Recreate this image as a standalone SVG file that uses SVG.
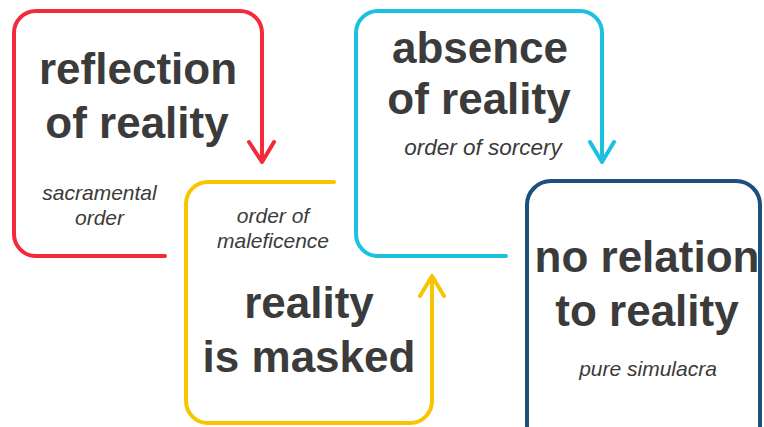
<svg xmlns="http://www.w3.org/2000/svg" width="764" height="427" viewBox="0 0 764 427">
<style>
.c{fill:none;stroke-width:4;stroke-linecap:round;stroke-linejoin:round}
.t{font-family:"Liberation Sans",Arial,sans-serif;font-weight:bold;font-size:44px;fill:#3b3b3b;text-anchor:middle}
.s{font-family:"Liberation Sans",Arial,sans-serif;font-style:italic;font-size:21px;fill:#3b3b3b;text-anchor:middle}
</style>
<rect width="764" height="427" fill="#ffffff"/>
<g id="connectors">
<path class="c" stroke="#f22a3a" d="M165,256 H36 A22,22 0 0 1 14,234 V33 A22,22 0 0 1 36,11 H240 A22,22 0 0 1 262,33 V162 M249,142 L262,162 L274,142"/>
<path class="c" stroke="#f8c500" d="M334,182 H208 A22,22 0 0 0 186,204 V401 A22,22 0 0 0 208,423 H410 A22,22 0 0 0 432,401 V276 M420,296 L432,276 L444,296"/>
<path class="c" stroke="#1cc0e0" d="M506,256 H378 A22,22 0 0 1 356,234 V33 A22,22 0 0 1 378,11 H580 A22,22 0 0 1 602,33 V162 M590,142 L602,162 L614,142"/>
</g>
<g id="node-reflection">
<text class="t" x="138" y="84">reflection</text>
<text class="t" x="137" y="138">of reality</text>
<text class="s" x="99.5" y="200">sacramental</text>
<text class="s" x="99.5" y="225">order</text>
</g>
<g id="node-masked">
<text class="s" x="273" y="223">order of</text>
<text class="s" x="273" y="248">maleficence</text>
<text class="t" x="309" y="318">reality</text>
<text class="t" x="309" y="372">is masked</text>
</g>
<g id="node-absence">
<text class="t" x="480" y="63">absence</text>
<text class="t" x="479" y="114">of reality</text>
<text class="s" x="483" y="155" style="font-size:22.5px">order of sorcery</text>
</g>
<g id="node-simulacra">
<rect x="527" y="181" width="233" height="270" rx="24" fill="none" stroke="#1d4e7c" stroke-width="4"/>
<text class="t" x="647" y="272">no relation</text>
<text class="t" x="647" y="326">to reality</text>
<text class="s" x="648" y="376">pure simulacra</text>
</g>
</svg>
